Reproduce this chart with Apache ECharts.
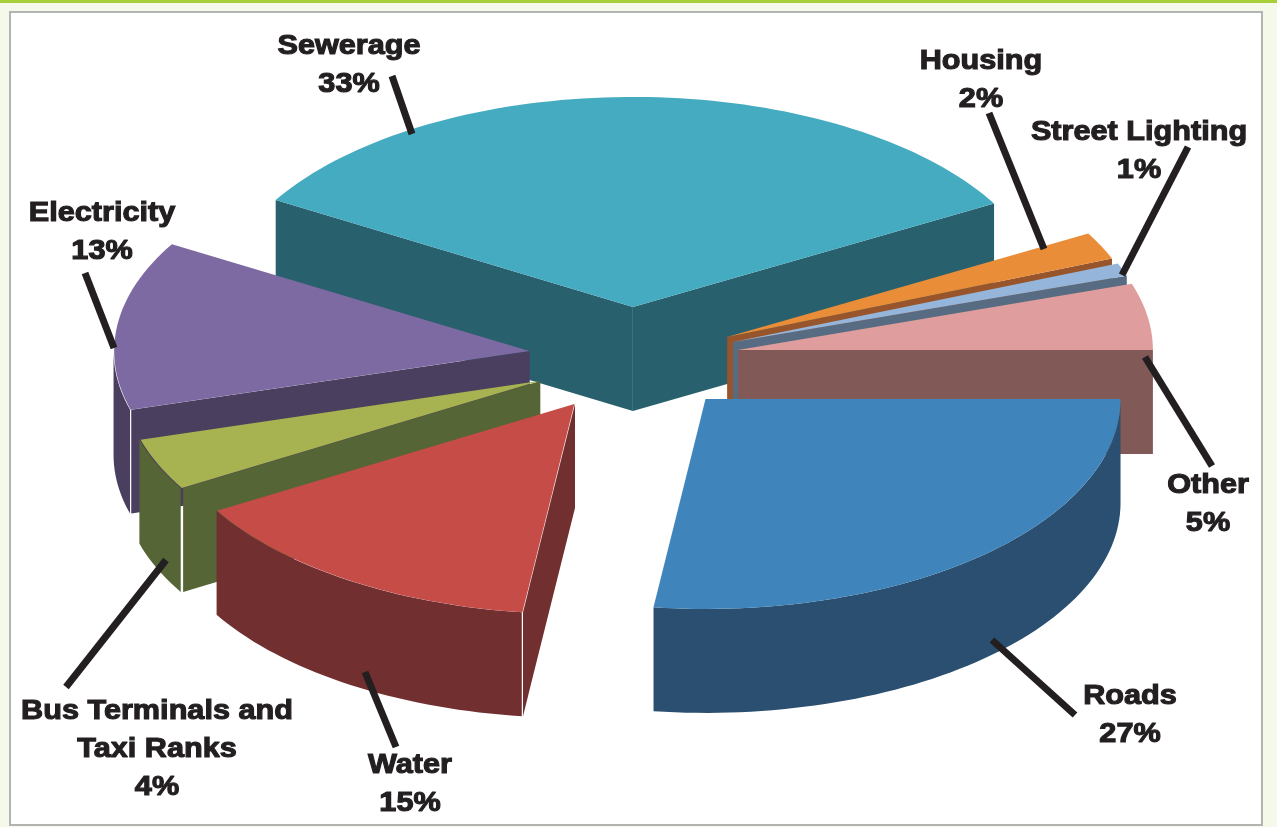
<!DOCTYPE html>
<html>
<head>
<meta charset="utf-8">
<style>html,body{margin:0;padding:0;background:#f5f9ea}#c{width:1277px;height:827px}</style>
<script src="https://cdn.jsdelivr.net/npm/echarts@6/dist/echarts.min.js"></script>
</head>
<body>
<div id="c"></div>
<script>
// Data, in drawing order (back to front around the pie)
const categories = ['Sewerage','Housing','Street Lighting','Other','Electricity','Bus Terminals and\nTaxi Ranks','Water','Roads'];
const shares     = [33.3, 2.1, 1, 5.1, 13, 4, 14.5, 27];
// Clockwise order around the pie, starting at the left edge of Sewerage
const clockwiseOrder = [0, 1, 2, 3, 7, 6, 5, 4];
const startAngle = -59.4;

// Styles and explode offsets, in units of pie radius
const topColors  = ['#45abc0','#ea8d38','#95b6da','#df9e9d','#7e6aa2','#a7b350','#c64c48','#3f84bb'];
const wallColors = ['#28616d','#98542a','#576c82','#815a58','#4b3f5f','#566535','#722f30','#2a4f70'];
const explodeX   = [0.007, 0.234, 0.248, 0.260, -0.243, -0.219, -0.134, 0.182];
const explodeY   = [0.205, 0.062, 0.038, 0, -0.005, -0.148, -0.257, -0.233];
const wallSeamPx = [0, 0, 0, 0, 0.6, 1.2, 0.6, 0];
const depth = 0.495;

// Axes: one x unit is the horizontal radius, one y unit the foreshortened vertical radius
const RX = 415, RY = 210, CX = 630, CY = 350, W = 1277, H = 827;

// Label layout (pixels)
const labelX = [349, 981, 1139, 1208, 102, 157, 410, 1130];
const labelY = [47, 62, 133, 486, 214, 712, 766, 697];
const leaders = [[392,76,412,134],[989,113,1044,249],[1188,147,1122,275],[1145,357,1212,466],
                 [85,273,114,348],[166,560,66,687],[365,672,396,747],[992,640,1075,715]];
const LINE_H = 37.7, INK = '#231f20', TEXT_STRETCH = 1.135;

const total = shares.reduce((a, b) => a + b, 0);
const spans = {};
let acc = startAngle;
clockwiseOrder.forEach(i => { const s = shares[i] / total * 360; spans[i] = [acc, acc + s]; acc += s; });
const rad = d => d * Math.PI / 180;

function renderSlice(params, api) {
  const i = api.value(0);
  const [t0, t1] = spans[i];
  const ox = explodeX[i], oy = explodeY[i];
  const rim = (t, drop) => api.coord([ox + Math.sin(rad(t)), oy + Math.cos(rad(t)) - (drop || 0)]);
  const apex = (drop) => api.coord([ox, oy - (drop || 0)]);
  const arc = (a, b, drop) => {
    const n = Math.max(2, Math.ceil(Math.abs(b - a) / 1.5)), out = [];
    for (let k = 0; k <= n; k++) out.push(rim(a + (b - a) * k / n, drop));
    return out;
  };
  const poly = (pts, fill) => ({ type: 'polygon', shape: { points: pts }, style: { fill: fill, stroke: null } });
  const wall = wallColors[i], seam = wallSeamPx[i];
  const shift = (pts, dx) => pts.map(p => [p[0] + dx, p[1]]);
  const children = [];
  // radial side walls, only where they face the viewer
  const A = apex(), M = rim((t0 + t1) / 2);
  [t0, t1].forEach(t => {
    const R = rim(t);
    const ex = R[0] - A[0], ey = R[1] - A[1], mx = M[0] - A[0], my = M[1] - A[1];
    if (ex * (ex * my - ey * mx) < 0) {
      children.push(poly(shift([apex(), R, rim(t, depth), apex(depth)], seam), wall));
    }
  });
  // outer curved wall, only where it faces the viewer
  const a = Math.max(t0, 90), b = Math.min(t1, 270);
  if (b > a) {
    children.push(poly(shift(arc(a, b).concat(arc(b, a, depth)), -seam), wall));
  }
  // top face
  children.push(poly([apex()].concat(arc(t0, t1)), topColors[i]));
  return { type: 'group', children: children };
}

const textStyle = { fontFamily: 'Liberation Sans', fontWeight: 'bold', fontSize: 27, fill: INK, stroke: INK, lineWidth: 1.1, align: 'center', verticalAlign: 'middle' };
const graphics = [
  { type: 'rect', z: -2, silent: true, shape: { x: 0, y: 0, width: W, height: 3 }, style: { fill: '#a9cf38' } },
  { type: 'rect', z: -2, silent: true, shape: { x: 10, y: 12, width: 1252, height: 813 }, style: { fill: '#fff', stroke: '#b1b4b0', lineWidth: 2 } }
];
categories.forEach((name, i) => {
  const [x1, y1, x2, y2] = leaders[i];
  graphics.push({ type: 'line', z: 20, silent: true, shape: { x1, y1, x2, y2 }, style: { stroke: INK, lineWidth: 7 } });
  const lines = name.split('\n').concat(Math.round(shares[i]) + '%');
  lines.forEach((txt, k) => graphics.push({
    type: 'text', z: 20, silent: true, x: labelX[i], y: labelY[i] + k * LINE_H, scaleX: TEXT_STRETCH,
    style: Object.assign({ text: txt }, textStyle)
  }));
});

const chart = echarts.init(document.getElementById('c'));
chart.setOption({
  animation: false,
  backgroundColor: '#f5f9ea',
  grid: { left: 0, right: 0, top: 0, bottom: 0 },
  xAxis: { type: 'value', show: false, min: -CX / RX, max: (W - CX) / RX },
  yAxis: { type: 'value', show: false, min: -(H - CY) / RY, max: CY / RY },
  graphic: graphics,
  series: [{
    type: 'custom',
    coordinateSystem: 'cartesian2d',
    clip: false,
    z: 5,
    renderItem: renderSlice,
    encode: { x: 1, y: 2 },
    data: categories.map((c, i) => [i, explodeX[i], explodeY[i], shares[i]])
  }]
});
</script>
</body>
</html>
